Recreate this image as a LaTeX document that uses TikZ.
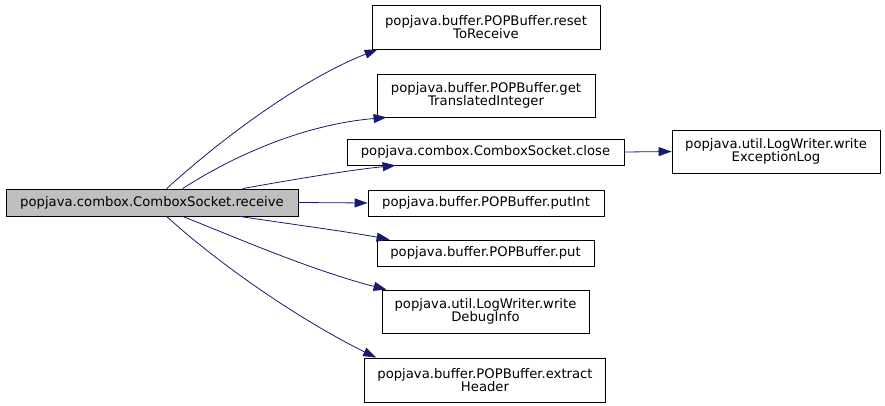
\documentclass[tikz,border=0pt]{standalone}
\usepackage{fontspec}
\setmainfont{DejaVu Sans}
\usetikzlibrary{arrows.meta}
\definecolor{edgecol}{HTML}{191970}
\definecolor{mainfill}{HTML}{BFBFBF}
\tikzset{
  fbox/.style={draw=black, line width=0.8pt, fill=white, inner sep=0pt, align=center,
    font=\fontsize{13.2}{13.6}\selectfont},
  callarrow/.style={draw=edgecol, line width=0.8pt, -{Triangle[length=13pt,width=9pt]}}
}
\begin{document}
\begin{tikzpicture}[x=1pt,y=-1pt]
\useasboundingbox (0,0) rectangle (885,405);
\node[fbox, fill=mainfill, minimum width=292pt, minimum height=27pt] (recv) at (152,202.5) {popjava.combox.ComboxSocket.receive};
\node[fbox, minimum width=228pt, minimum height=44pt] (reset) at (486,27) {popjava.buffer.POPBuffer.reset\\ToReceive};
\node[fbox, minimum width=218pt, minimum height=43pt] (getT) at (486,95.5) {popjava.buffer.POPBuffer.get\\TranslatedInteger};
\node[fbox, minimum width=277pt, minimum height=26pt] (close) at (485.5,152) {popjava.combox.ComboxSocket.close};
\node[fbox, minimum width=236pt, minimum height=26pt] (putInt) at (486,203) {popjava.buffer.POPBuffer.putInt};
\node[fbox, minimum width=217pt, minimum height=26pt] (put) at (485.5,253) {popjava.buffer.POPBuffer.put};
\node[fbox, minimum width=207pt, minimum height=43pt] (debug) at (485.5,311.5) {popjava.util.LogWriter.write\\DebugInfo};
\node[fbox, minimum width=241pt, minimum height=44pt] (extract) at (485,380) {popjava.buffer.POPBuffer.extract\\Header};
\node[fbox, minimum width=208pt, minimum height=43pt] (wel) at (776,151.5) {popjava.util.LogWriter.write\\ExceptionLog};

\draw[callarrow] ([xshift=161pt]recv.north west) .. controls (220,140) and (300,80) .. ([xshift=6pt]reset.south west);
\draw[callarrow] ([xshift=177pt]recv.north west) .. controls (230,158) and (300,125) .. ([xshift=10pt]getT.south west);
\draw[callarrow] ([xshift=237pt]recv.north west) .. controls (290,180) and (350,170) .. ([xshift=49pt]close.south west);
\draw[callarrow] (recv.east) -- (putInt.west);
\draw[callarrow] ([xshift=234pt]recv.south west) .. controls (290,224) and (350,232) .. ([xshift=13pt]put.north west);
\draw[callarrow] ([xshift=177pt]recv.south west) .. controls (230,235) and (310,270) .. ([xshift=5pt]debug.north west);
\draw[callarrow] ([xshift=161pt]recv.south west) .. controls (220,265) and (300,320) .. ([xshift=12pt]extract.north west);
\draw[callarrow] (close.east) -- (wel.west);
\end{tikzpicture}
\end{document}
